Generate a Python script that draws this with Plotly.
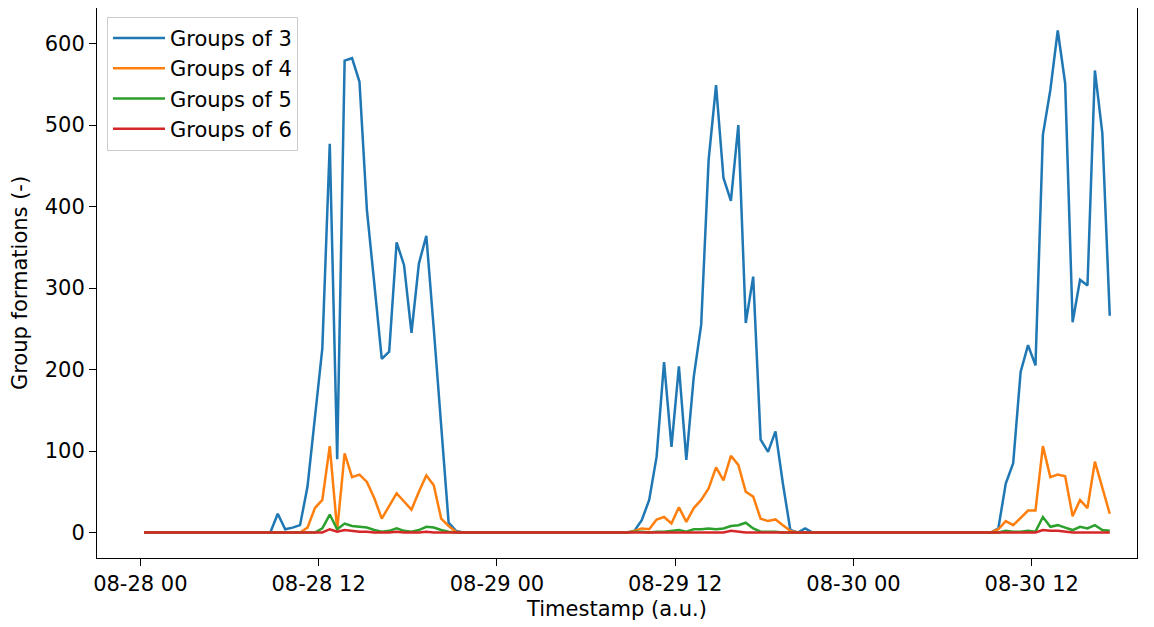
import pandas as pd
import plotly.graph_objects as go

# Timestamps: 30-minute samples
start_time = "2023-08-28 00:15"
n_points = 131
timestamps = pd.date_range(start=start_time, periods=n_points, freq="30min")

groups_of_3 = ([0] * 18 +
               [23, 4, 6, 9, 56, 140, 226, 477, 90, 579, 582, 553, 396, 305, 213, 222,
                356, 328, 245, 330, 364, 250, 130, 12, 2] +
               [0] * 23 +
               [2, 15, 40, 93, 209, 105, 204, 89, 191, 255, 457, 549, 435, 407, 500, 257,
                314, 114, 99, 124, 60, 3] +
               [0, 5] +
               [0] * 25 +
               [5, 60, 85, 197, 230, 205, 488, 543, 616, 551, 258, 310, 303, 567, 490, 266])

groups_of_4 = ([0] * 22 +
               [6, 30, 40, 106, 3, 97, 68, 71, 62, 42, 17, 32, 48, 38, 28, 50, 70, 58, 17, 8, 1] +
               [0] * 23 +
               [2, 5, 4, 16, 19, 11, 31, 13, 30, 40, 54, 80, 64, 94, 83, 50, 44, 17, 14, 16, 9, 2] +
               [0] * 27 +
               [4, 14, 9, 18, 27, 27, 106, 68, 71, 69, 20, 40, 30, 87, 54, 23])

groups_of_5 = ([0] * 24 +
               [5, 22, 4, 11, 8, 7, 6, 3, 1, 2, 5, 2, 1, 3, 7, 6, 3, 1] +
               [0] * 24 +
               [1, 1, 0, 1, 1, 2, 3, 1, 4, 4, 5, 4, 5, 8, 9, 12, 5, 1, 1, 1] +
               [0] * 29 +
               [0, 2, 1, 1, 2, 1, 19, 7, 9, 6, 3, 7, 5, 9, 3, 2])

groups_of_6 = ([0] * 25 +
               [4, 1, 3, 2, 1, 1] + [0] * 3 + [1] + [0] * 3 + [1] +
               [0] * 40 + [2, 1] + [0] * 40 + [3, 2, 2, 1] + [0] * 6)

series_names = ["Groups of 3", "Groups of 4", "Groups of 5", "Groups of 6"]
series_values = [groups_of_3, groups_of_4, groups_of_5, groups_of_6]
colors = ["#1f77b4", "#ff7f0e", "#2ca02c", "#d62728"]

y_ticks = [0, 100, 200, 300, 400, 500, 600]

FONT = "DejaVu Sans"
FS = 21

fig = go.Figure()
for i, (name, vals, col) in enumerate(zip(series_names, series_values, colors)):
    fig.add_trace(go.Scatter(
        x=timestamps, y=vals, mode="lines", name=name,
        line=dict(color=col, width=2.5), legendgroup=name,
    ))

axis_common = dict(
    showline=True, linecolor="black", linewidth=1.1, mirror=True,
    ticks="outside", ticklen=7, tickwidth=1.1, tickcolor="black",
    showgrid=False, zeroline=False,
    tickfont=dict(family=FONT, size=FS, color="black"),
    automargin=False,
)

fig.update_layout(
    width=1154, height=627,
    margin=dict(l=89, r=25, t=0, b=77),
    plot_bgcolor="white", paper_bgcolor="white",
    font=dict(family=FONT, size=FS, color="black"),
    showlegend=True,
    legend=dict(
        x=0.0096, y=0.984, xanchor="left", yanchor="top",
        bgcolor="rgba(255,255,255,0.8)", bordercolor="#cccccc", borderwidth=1,
        font=dict(family=FONT, size=FS, color="black"),
        tracegroupgap=0, traceorder="grouped", itemwidth=52,
    ),
    xaxis=dict(
        axis_common,
        type="date",
        range=["2023-08-27 21:05", "2023-08-30 19:05"],
        tick0="2023-08-28 00:00", dtick=12 * 3600 * 1000,
        tickformat="%m-%d %H",
        title=dict(text="Timestamp (a.u.)", font=dict(family=FONT, size=FS), standoff=6),
    ),
    yaxis=dict(
        axis_common,
        range=[-31.3, 643.6],
        tickvals=y_ticks,
        title=dict(text="Group formations (-)", font=dict(family=FONT, size=FS), standoff=12),
    ),
)

fig.write_html("out.html")
